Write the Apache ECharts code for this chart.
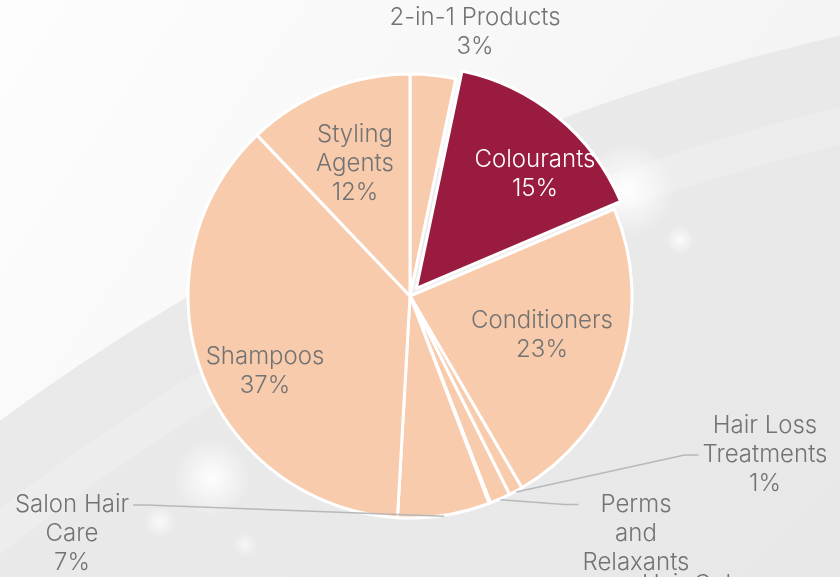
<!DOCTYPE html>
<html>
<head>
<meta charset="utf-8">
<script src="https://cdn.jsdelivr.net/npm/echarts@6/dist/echarts.min.js"></script>
<style>
  html, body { margin: 0; padding: 0; }
  #chart { width: 840px; height: 577px; }
</style>
</head>
<body>
<div id="chart"></div>
<script>
// segments, clockwise from 12 o'clock
var categories = ['2-in-1 Products', 'Colourants', 'Conditioners', 'Hair Loss Treatments',
  'Perms and Relaxants', 'Hair Colour Removers', 'Salon Hair Care', 'Shampoos', 'Styling Agents'];
var shares = [3.3, 15.3, 23.0, 1.0, 1.5, 0.1, 6.7, 37.0, 12.1];
// how each label is wrapped on the slide
var labelNames = ['2-in-1 Products', 'Colourants', 'Conditioners', 'Hair Loss\nTreatments',
  'Perms\nand\nRelaxants', 'Hair Colour\nRemovers', 'Salon Hair\nCare', 'Shampoos', 'Styling\nAgents'];
var highlighted = 'Colourants';

// hand placed labels: centre of the text block
var labelSpots = [[475, 32], [535, 174], [542, 335], [765, 455],
  [636, 548], [705, 614], [72, 534], [265, 371], [355, 164]];
var insideLabels = ['Conditioners', 'Shampoos', 'Styling Agents'];
// leader line: which side of the label and which text line it meets
var leaders = { 3: ['left', 1], 4: ['left', 0], 6: ['right', 0] };

var CX = 410, CY = 296, R = 222, EXPLODE = 10;
var LINE_H = 29;
var peach = '#f7cbac';
var wine = '#991b40';
var textGrey = '#737373';
var clear = 'rgba(0,0,0,0)';

var total = shares.reduce(function (a, b) { return a + b; }, 0);
function midAngle(i) {
  var before = 0;
  for (var k = 0; k < i; k++) before += shares[k];
  return (before + shares[i] / 2) / total * Math.PI * 2;
}

var hotIndex = categories.indexOf(highlighted);
var hotAngle = midAngle(hotIndex);
var hotCenter = [CX + EXPLODE * Math.sin(hotAngle), CY - EXPLODE * Math.cos(hotAngle)];

var myChart = echarts.init(document.getElementById('chart'));

var glow = function (x, y, r, a) {
  return {
    type: 'circle',
    silent: true,
    shape: { cx: x, cy: y, r: r },
    style: {
      fill: new echarts.graphic.RadialGradient(0.5, 0.5, 0.5, [
        { offset: 0, color: 'rgba(255,255,255,' + a + ')' },
        { offset: 0.45, color: 'rgba(255,255,255,' + (a * 0.55) + ')' },
        { offset: 1, color: 'rgba(255,255,255,0)' }
      ])
    }
  };
};

function placeLabel(params) {
  var i = params.dataIndex;
  var spot = labelSpots[i];
  var out = { x: spot[0], y: spot[1], align: 'center', verticalAlign: 'middle' };
  var lead = leaders[i];
  if (lead) {
    var a = midAngle(i);
    // start on the white rim of the slice
    var start = [CX + (R + 1) * Math.sin(a), CY - (R + 1) * Math.cos(a)];
    var w = params.labelRect.width, h = params.labelRect.height;
    var ey = spot[1] - h / 2 + LINE_H * (lead[1] + 0.5);
    var ex = lead[0] === 'left' ? spot[0] - w / 2 - 4 : spot[0] + w / 2 + 4;
    var elbow = [lead[0] === 'left' ? ex - 14 : ex + 14, ey];
    out.labelLinePoints = [start, elbow, [ex, ey]];
  }
  return out;
}

function labelFormat(p) {
  return labelNames[p.dataIndex] + '\n' + Math.round(p.percent) + '%';
}

var labelBase = {
  fontFamily: 'Inter',
  fontWeight: 300,
  fontSize: 24,
  lineHeight: LINE_H,
  color: textGrey,
  align: 'center',
  formatter: labelFormat
};

var option = {
  backgroundColor: '#f7f7f7',
  graphic: [
    {
      type: 'rect', silent: true, z: -10,
      shape: { x: 0, y: 0, width: 840, height: 577 },
      style: {
        fill: new echarts.graphic.LinearGradient(0, 0, 1, 1, [
          { offset: 0, color: '#fdfdfd' },
          { offset: 1, color: '#f0f0f0' }
        ])
      }
    },
    {
      type: 'circle', silent: true, z: -9,
      shape: { cx: 1354, cy: 2265, r: 2288 },
      style: {
        fill: new echarts.graphic.LinearGradient(0, 0, 1, 1, [
          { offset: 0, color: '#ececec' },
          { offset: 1, color: '#dddddd' }
        ])
      }
    },
    {
      type: 'circle', silent: true, z: -8,
      shape: { cx: 1354, cy: 2265, r: 2200 },
      style: { fill: 'none', stroke: 'rgba(255,255,255,0.18)', lineWidth: 36 }
    },
    glow(628, 190, 48, 0.95),
    glow(680, 240, 14, 0.8),
    glow(212, 478, 38, 0.95),
    glow(160, 522, 16, 0.7),
    glow(245, 545, 12, 0.6)
  ],
  series: [
    {
      // the peach segments and the labels that sit inside them
      type: 'pie',
      z: 2,
      center: [CX, CY],
      radius: R,
      startAngle: 90,
      clockwise: true,
      avoidLabelOverlap: false,
      animation: false,
      silent: true,
      itemStyle: { color: peach, borderColor: '#ffffff', borderWidth: 3 },
      label: echarts.util.extend(echarts.util.extend({}, labelBase), { position: 'inside' }),
      labelLine: { show: false },
      labelLayout: placeLabel,
      data: categories.map(function (name, i) {
        var isHot = i === hotIndex;
        return {
          name: name,
          value: shares[i],
          itemStyle: isHot ? { opacity: 0 } : undefined,
          label: { show: insideLabels.indexOf(name) >= 0 }
        };
      })
    },
    {
      // the pulled-out segment, plus the outside labels drawn on top
      type: 'pie',
      z: 3,
      center: hotCenter,
      radius: R,
      startAngle: 90,
      clockwise: true,
      avoidLabelOverlap: false,
      animation: false,
      silent: true,
      itemStyle: { color: wine, borderColor: '#ffffff', borderWidth: 3 },
      label: labelBase,
      labelLine: {
        show: true, showAbove: true, minTurnAngle: 0, maxSurfaceAngle: 180,
        lineStyle: { color: '#b8b8b8', width: 1.5 }
      },
      labelLayout: placeLabel,
      data: categories.map(function (name, i) {
        var isHot = i === hotIndex;
        var inside = insideLabels.indexOf(name) >= 0;
        return {
          name: name,
          value: shares[i],
          itemStyle: isHot ? undefined : { color: clear, borderColor: clear, borderWidth: 0 },
          label: {
            show: !inside,
            position: isHot ? 'inside' : 'outside',
            color: isHot ? '#ffffff' : textGrey
          },
          labelLine: { show: leaders[i] !== undefined, lineStyle: { color: '#b8b8b8', width: 1.5 } }
        };
      })
    }
  ]
};

myChart.setOption(option);
</script>
</body>
</html>
